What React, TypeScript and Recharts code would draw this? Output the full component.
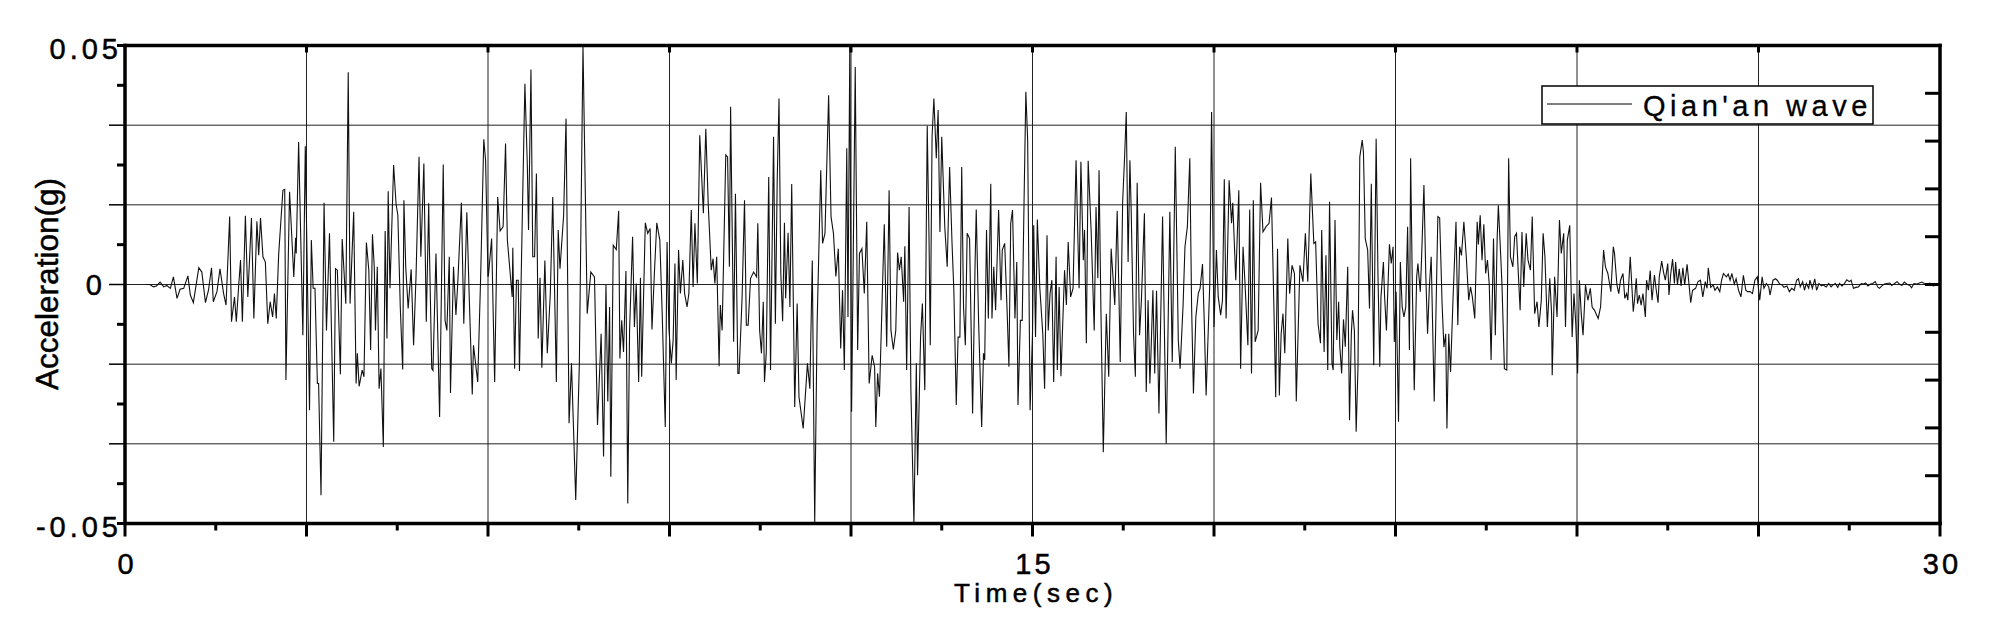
import { LineChart, Line, XAxis, YAxis, ReferenceLine, Legend } from "recharts";

// Qian'an wave acceleration record, [time (s), acceleration (g)]
const SEG_0_5: [number, number][] = [
  [0.33, 0], [0.41, 0], [0.47, -0.0005], [0.52, -0.0003], [0.58, 0.0005], [0.64, -0.0005], [0.69, -0.0002],
  [0.75, -0.0008], [0.8, 0.0016], [0.86, -0.0029], [0.91, -0.001], [0.97, -0.0008], [1.04, 0.0018], [1.08, -0.0022],
  [1.13, -0.0038], [1.22, 0.0035], [1.27, 0.0026], [1.33, -0.0038], [1.38, -0.0012], [1.43, 0.0035], [1.46, -0.0036],
  [1.52, -0.0015], [1.57, 0.0033], [1.63, -0.0019], [1.67, -0.0043], [1.73, 0.0142], [1.76, -0.0078], [1.81, -0.0026],
  [1.84, -0.0078], [1.88, -0.0001], [1.91, 0.0051], [1.94, -0.0078], [1.99, 0.0144], [2.03, -0.0026], [2.09, 0.0139],
  [2.13, -0.0071], [2.18, 0.0132], [2.21, 0.0061], [2.24, 0.0139], [2.28, 0.0058], [2.32, 0.0047], [2.36, -0.0082],
  [2.4, -0.0036], [2.44, -0.0068], [2.47, -0.0019], [2.5, -0.0071], [2.54, 0.0063], [2.61, 0.0197], [2.64, 0.0199],
  [2.66, -0.02], [2.72, 0.0194], [2.79, 0.0016], [2.82, 0.0098], [2.83, 0.0065], [2.87, 0.0298], [2.94, -0.0106],
  [2.98, 0.0289], [3.05, -0.0263], [3.08, 0.0093], [3.11, -0.0008], [3.14, -0.0008], [3.18, -0.0207], [3.2, -0.0207],
  [3.24, -0.0441], [3.29, 0.0171], [3.33, -0.0096], [3.38, 0.0107], [3.45, -0.0329], [3.48, 0.0033], [3.51, 0.003],
  [3.56, -0.0188], [3.59, 0.0095], [3.65, -0.004], [3.69, 0.0444], [3.72, -0.004], [3.78, 0.0152], [3.82, -0.0207],
  [3.84, -0.0144], [3.87, -0.0213], [3.92, -0.0179], [3.95, -0.0193], [3.99, 0.0088], [4.03, 0.003], [4.06, -0.0137],
  [4.09, 0.0105], [4.12, 0.0037], [4.14, -0.0096], [4.17, 0.0037], [4.2, -0.0218], [4.23, -0.0176], [4.27, -0.034],
  [4.3, 0.0112], [4.33, -0.0113], [4.35, 0.0195], [4.38, -0.0008], [4.44, 0.025], [4.48, 0.0169], [4.51, 0.0145],
  [4.55, -0.0047], [4.59, -0.0178], [4.61, 0.0176], [4.64, 0.0037], [4.68, -0.005], [4.73, 0.0032], [4.77, -0.0127],
  [4.81, 0.0016], [4.86, 0.0267], [4.89, 0.0058], [4.94, 0.0253], [4.98, -0.0078],
];

const SEG_5_10: [number, number][] = [
  [5.02, 0.017], [5.03, 0.0086], [5.07, -0.0176], [5.09, -0.018], [5.14, 0.0065], [5.2, -0.0277], [5.26, 0.0251],
  [5.29, -0.0075], [5.32, -0.0096], [5.36, 0.0058], [5.38, -0.0227], [5.43, 0.0037], [5.47, -0.0064], [5.5, 0.0002],
  [5.56, 0.0171], [5.6, -0.0082], [5.65, 0.0151], [5.69, -0.0026], [5.74, -0.023], [5.76, -0.0127], [5.83, -0.0204],
  [5.88, 0.0023], [5.93, 0.0304], [5.96, 0.026], [6.0, 0.0016], [6.01, 0.0023], [6.06, 0.0096], [6.11, -0.0204],
  [6.16, 0.0183], [6.2, 0.0112], [6.25, 0.0121], [6.29, 0.0295], [6.32, 0.0093], [6.4, -0.0026], [6.41, 0.0077],
  [6.44, -0.0176], [6.47, 0.0009], [6.5, 0.0009], [6.52, -0.0181], [6.57, 0.0162], [6.61, 0.042], [6.65, 0.025],
  [6.67, 0.0114], [6.71, 0.045], [6.74, 0.0058], [6.77, 0.0058], [6.8, 0.0232], [6.83, -0.0113], [6.86, 0.0014],
  [6.89, -0.0174], [6.94, 0.005], [6.98, -0.0144], [7.03, -0.0019], [7.07, 0.0183], [7.13, -0.0204], [7.16, 0.0114],
  [7.19, 0.0033], [7.25, 0.0145], [7.29, 0.0347], [7.34, -0.029], [7.38, -0.0165], [7.45, -0.0451], [7.51, -0.0165],
  [7.57, 0.05], [7.64, -0.0061], [7.7, 0.0026], [7.76, 0.0016], [7.81, -0.0294], [7.87, -0.0103], [7.91, -0.036],
  [7.95, -0.0001], [7.98, -0.0245], [8.01, -0.0047], [8.03, -0.0402], [8.07, 0.0082], [8.12, 0.0073], [8.16, 0.0154],
  [8.18, -0.0155], [8.21, -0.0075], [8.24, -0.0141], [8.28, 0.0028], [8.31, -0.0458], [8.34, -0.0096], [8.39, 0.01],
  [8.42, -0.0089], [8.45, 0.0002], [8.49, -0.0204], [8.52, 0.0014], [8.54, -0.0193], [8.6, 0.0129], [8.64, 0.0107],
  [8.68, 0.0117], [8.71, -0.0094], [8.75, 0.0023], [8.79, 0.0129], [8.84, 0.0093], [8.88, -0.0064], [8.93, -0.0298],
  [8.96, 0.0089], [8.99, -0.0092], [9.03, -0.0165], [9.06, -0.0117], [9.09, 0.0044], [9.11, -0.02], [9.15, 0.0072],
  [9.18, -0.0019], [9.22, 0.0051], [9.25, -0.0019], [9.29, -0.0047], [9.32, -0.0019], [9.36, 0.0156], [9.39, -0.0005],
  [9.42, 0.0128], [9.46, 0.0002], [9.5, 0.0312], [9.56, 0.0149], [9.6, 0.0326], [9.64, 0.0169], [9.69, 0.003],
  [9.72, 0.0054], [9.75, 0.0002], [9.78, 0.0058], [9.82, -0.0171], [9.84, -0.0043], [9.87, -0.0096], [9.93, 0.0271],
  [9.96, 0.0267], [9.99, 0.0037], [10.01, 0.0372],
];

const SEG_10_15: [number, number][] = [
  [10.06, -0.012], [10.09, 0.019], [10.13, -0.0186], [10.15, -0.0186], [10.2, -0.0026], [10.24, 0.0176],
  [10.27, -0.0085], [10.3, -0.0085], [10.34, 0.0013], [10.39, 0.0026], [10.44, 0.0016], [10.46, 0.0128],
  [10.49, -0.0096], [10.52, -0.0144], [10.55, -0.0036], [10.57, -0.0204], [10.6, -0.0141], [10.64, 0.0225],
  [10.67, -0.0179], [10.72, 0.0309], [10.75, -0.0082], [10.78, 0.0215], [10.81, 0.0389], [10.84, 0.0023],
  [10.87, -0.0077], [10.9, 0.0129], [10.92, -0.0029], [10.96, 0.0108], [10.99, -0.0047], [11.02, 0.021],
  [11.07, -0.0256], [11.11, -0.004], [11.14, -0.0235], [11.21, -0.0301], [11.28, -0.0165], [11.32, -0.0218],
  [11.36, 0.005], [11.4, -0.05], [11.44, -0.0082], [11.5, 0.0239], [11.53, 0.0086], [11.57, 0.0107], [11.63, 0.0396],
  [11.67, 0.0142], [11.71, 0.0107], [11.75, 0.0017], [11.79, 0.0075], [11.83, -0.0134], [11.86, -0.0012],
  [11.89, -0.0179], [11.93, 0.0285], [11.95, -0.0068], [11.98, 0.05], [12.01, -0.0266], [12.07, 0.0455],
  [12.11, -0.0137], [12.14, 0.0065], [12.18, 0.0075], [12.22, -0.0019], [12.26, 0.0131], [12.3, -0.0207],
  [12.35, -0.0148], [12.39, -0.0172], [12.41, -0.0298], [12.44, -0.0186], [12.47, -0.0235], [12.51, -0.0054],
  [12.55, 0.0126], [12.59, -0.013], [12.63, 0.0197], [12.66, -0.0096], [12.7, -0.0136], [12.74, -0.0096],
  [12.77, 0.0067], [12.8, 0.003], [12.83, 0.0058], [12.87, -0.0036], [12.89, 0.008], [12.92, -0.0179], [12.96, 0.0162],
  [12.99, -0.0221], [13.04, -0.05], [13.08, -0.0165], [13.1, -0.0399], [13.15, -0.011], [13.18, -0.004],
  [13.22, -0.0221], [13.26, 0.0332], [13.29, 0.0093], [13.31, -0.0127], [13.34, 0.0309], [13.37, 0.0389],
  [13.41, 0.0264], [13.44, 0.0365], [13.47, 0.011], [13.5, 0.0309], [13.55, 0.0121], [13.59, 0.0037], [13.63, 0.0246],
  [13.67, 0.0086], [13.7, -0.0012], [13.74, -0.0252], [13.77, -0.011], [13.8, -0.011], [13.83, 0.0246],
  [13.86, -0.0047], [13.89, -0.0127], [13.92, 0.0107], [13.96, 0.0096], [14.01, -0.027], [14.05, 0.0037],
  [14.07, 0.0157], [14.11, -0.0082], [14.16, -0.0298], [14.19, -0.0144], [14.21, -0.0158], [14.24, 0.0114],
  [14.27, -0.0071], [14.31, 0.0211], [14.33, -0.0071], [14.36, 0.0037], [14.39, -0.0054], [14.44, 0.0156],
  [14.48, -0.0033], [14.5, 0.0072], [14.54, 0.0086], [14.58, -0.0054], [14.61, -0.0172], [14.64, 0.0128],
  [14.67, 0.0156], [14.71, -0.0071], [14.74, 0.0047], [14.76, -0.0252], [14.8, -0.0075], [14.83, -0.0075],
  [14.86, 0.017], [14.89, 0.0403], [14.92, 0.0302], [14.96, -0.0263],
];

const SEG_15_20: [number, number][] = [
  [15.0, -0.0103], [15.02, 0.0124], [15.05, -0.011], [15.08, 0.0136], [15.12, -0.0005], [15.17, -0.0103],
  [15.2, -0.0218], [15.24, 0.0103], [15.26, -0.0096], [15.29, -0.0019], [15.32, 0.0009], [15.35, -0.0204],
  [15.39, 0.0058], [15.41, -0.0179], [15.44, -0.0005], [15.47, -0.0192], [15.53, 0.003], [15.56, -0.0043],
  [15.59, 0.0089], [15.63, -0.0026], [15.67, -0.0008], [15.72, 0.026], [15.77, -0.0008], [15.8, 0.0257],
  [15.84, 0.0051], [15.86, 0.0114], [15.89, -0.0123], [15.92, 0.0259], [15.97, 0.011], [16.02, -0.0096],
  [16.05, 0.0162], [16.08, 0.0013], [16.1, 0.0239], [16.13, -0.0047], [16.17, -0.0351], [16.22, -0.0061],
  [16.26, -0.0193], [16.3, 0.0075], [16.36, -0.0043], [16.4, 0.0154], [16.43, -0.0029], [16.45, -0.0162],
  [16.49, 0.0173], [16.52, 0.026], [16.55, 0.0361], [16.58, 0.0047], [16.61, 0.026], [16.63, 0.0162],
  [16.67, -0.0103], [16.7, -0.0193], [16.73, 0.0213], [16.77, -0.0106], [16.8, -0.0033], [16.85, 0.0149],
  [16.88, -0.0225], [16.91, -0.0033], [16.94, -0.0207], [16.96, -0.0138], [16.99, -0.0012], [17.02, -0.0186],
  [17.05, -0.0013], [17.09, -0.027], [17.15, 0.0142], [17.21, -0.0333], [17.23, -0.0179], [17.27, 0.0152],
  [17.31, -0.0162], [17.36, 0.0288], [17.41, -0.0117], [17.44, -0.0176], [17.49, -0.004], [17.52, 0.0079],
  [17.56, 0.0121], [17.6, 0.0264], [17.63, -0.0047], [17.66, -0.0228], [17.7, -0.0068], [17.74, -0.0019],
  [17.77, -0.0008], [17.81, 0.0043], [17.84, -0.0082], [17.87, -0.0232], [17.93, 0.0001], [17.96, 0.0361],
  [18.0, -0.0089], [18.04, 0.0072], [18.07, -0.0026], [18.11, -0.0064], [18.14, -0.0033], [18.17, 0.022],
  [18.2, -0.0071], [18.25, 0.0218], [18.29, 0.0128], [18.31, 0.0171], [18.36, 0.0009], [18.41, 0.0197],
  [18.44, -0.0176], [18.48, 0.0079], [18.51, 0.0009], [18.56, -0.0127], [18.59, 0.0157], [18.62, -0.0186],
  [18.65, 0.0176], [18.68, -0.012], [18.73, -0.0096], [18.77, 0.0213], [18.81, 0.011], [18.86, 0.0121],
  [18.91, 0.0128], [18.95, 0.0182], [18.99, -0.0047], [19.02, -0.0236], [19.05, 0.0075], [19.08, -0.0232],
  [19.11, -0.0103], [19.14, -0.0061], [19.17, -0.0144], [19.22, 0.0096], [19.25, -0.0019], [19.29, 0.004],
  [19.33, 0.0023], [19.36, -0.0245], [19.42, 0.004], [19.47, 0.0006], [19.51, 0.0107], [19.55, 0.0006],
  [19.6, 0.0232], [19.65, 0.0086], [19.68, 0.0089], [19.72, -0.0082], [19.76, -0.0123], [19.78, 0.0114],
  [19.82, -0.0141], [19.85, 0.0061], [19.88, -0.0179], [19.91, 0.0173], [19.95, -0.0165],
];

const SEG_20_25: [number, number][] = [
  [19.97, -0.0179], [20.0, 0.0135], [20.03, -0.0116], [20.06, -0.0036], [20.08, -0.013], [20.11, -0.0186],
  [20.14, -0.0073], [20.17, -0.013], [20.21, 0.0037], [20.24, -0.0284], [20.27, -0.0103], [20.29, -0.0054],
  [20.32, -0.0096], [20.35, -0.0308], [20.38, -0.0172], [20.41, 0.0267], [20.45, 0.0302], [20.47, 0.0277],
  [20.5, 0.0096], [20.54, 0.0072], [20.57, -0.005], [20.6, 0.0211], [20.64, -0.0169], [20.68, 0.0305],
  [20.71, 0.0023], [20.74, -0.0172], [20.76, -0.0026], [20.8, 0.0047], [20.82, -0.0026], [20.85, -0.0096],
  [20.9, 0.0084], [20.93, 0.0044], [20.96, 0.0079], [20.98, -0.012], [21.01, -0.0015], [21.05, -0.0287],
  [21.08, 0.0047], [21.11, -0.0047], [21.14, -0.0068], [21.17, -0.0047], [21.2, 0.0121], [21.23, -0.0137],
  [21.25, 0.0264], [21.28, -0.0019], [21.31, -0.0221], [21.35, 0.0016], [21.37, 0.0044], [21.41, -0.0015],
  [21.43, 0.0051], [21.47, 0.0208], [21.5, 0.0023], [21.53, -0.0103], [21.56, -0.0005], [21.59, 0.0058],
  [21.64, -0.0245], [21.7, 0.0142], [21.73, 0.0139], [21.77, -0.004], [21.8, -0.0131], [21.83, -0.0103],
  [21.85, -0.0301], [21.88, -0.0103], [21.91, -0.0183], [21.95, -0.0033], [22.0, 0.0131], [22.03, -0.0085],
  [22.06, 0.0079], [22.09, 0.0061], [22.13, 0.0131], [22.17, 0.0058], [22.21, -0.0033], [22.24, -0.0005],
  [22.27, -0.0026], [22.31, -0.0071], [22.35, 0.0131], [22.37, 0.0084], [22.4, 0.0145], [22.43, 0.0051],
  [22.46, 0.0126], [22.49, 0.0023], [22.52, 0.0051], [22.55, -0.0001], [22.58, -0.0158], [22.62, 0.0096],
  [22.65, -0.0106], [22.68, 0.0096], [22.7, 0.0166], [22.74, 0.0058], [22.76, -0.0001], [22.8, -0.0176],
  [22.84, -0.0179], [22.87, 0.0264], [22.9, 0.0058], [22.94, 0.0037], [22.97, 0.01], [23.0, 0.0107], [23.03, 0.0023],
  [23.06, -0.0054], [23.09, 0.011], [23.12, -0.0005], [23.16, 0.0107], [23.19, 0.0051], [23.23, 0.003],
  [23.26, 0.0142], [23.3, -0.0061], [23.34, -0.0036], [23.37, -0.0089], [23.41, -0.0033], [23.44, 0.0107],
  [23.47, 0.0058], [23.51, -0.0089], [23.55, 0.0013], [23.58, -0.0061], [23.59, -0.019], [23.63, 0.0016],
  [23.67, -0.0068], [23.71, 0.0135], [23.74, 0.0065], [23.78, 0.0107], [23.81, -0.0089], [23.84, 0.0093],
  [23.88, 0.0124], [23.92, -0.011], [23.95, -0.0019], [23.98, -0.0082], [24.01, -0.0186], [24.04, 0.0009],
  [24.07, -0.0061], [24.1, -0.0106], [24.14, -0.0001], [24.18, -0.0033], [24.22, -0.0008], [24.25, -0.0047],
  [24.29, -0.0054], [24.35, -0.0071], [24.39, -0.0047], [24.44, 0.0072], [24.47, 0.0037], [24.51, 0.0023],
  [24.56, -0.0015], [24.6, 0.0079], [24.62, 0.0065], [24.66, -0.0001], [24.69, -0.0019], [24.72, 0.0009],
  [24.76, 0.0023], [24.79, -0.0029], [24.82, -0.0019], [24.84, -0.0033], [24.88, 0.0058], [24.93, -0.0057],
];

const SEG_25_30: [number, number][] = [
  [24.95, -0.0033], [24.98, 0.0013], [25.0, -0.004], [25.03, -0.0022], [25.06, -0.0043], [25.09, -0.0019],
  [25.13, -0.0068], [25.15, 0.0009], [25.18, -0.0012], [25.21, 0.0029], [25.24, -0.0033], [25.28, 0.002],
  [25.31, -0.0012], [25.34, -0.0038], [25.36, 0.0016], [25.4, 0.0049], [25.43, 0.0026], [25.46, 0.0009],
  [25.5, 0.0044], [25.52, -0.0022], [25.55, 0.0023], [25.58, 0.0053], [25.61, 0.0002], [25.63, 0.0047],
  [25.66, -0.0001], [25.69, 0.0033], [25.72, -0.0003], [25.75, 0.0035], [25.78, -0.0001], [25.82, 0.0042],
  [25.85, 0.0002], [25.88, -0.0038], [25.91, -0.0012], [25.96, -0.0008], [26.0, 0.0006], [26.04, 0.0009],
  [26.08, -0.0026], [26.12, 0.0006], [26.15, -0.0008], [26.17, 0.0035], [26.21, -0.0006], [26.25, -0.0001],
  [26.28, -0.0012], [26.32, -0.0005], [26.36, -0.0015], [26.39, 0.0009], [26.42, 0.0023], [26.47, 0.0016],
  [26.5, 0.0022], [26.53, 0.0009], [26.56, 0.0023], [26.6, 0.0001], [26.63, 0.0012], [26.67, -0.0012],
  [26.71, -0.0026], [26.75, 0.0019], [26.79, -0.0012], [26.82, -0.0015], [26.86, -0.0015], [26.9, -0.0019],
  [26.94, 0.0009], [26.98, 0.0016], [27.02, -0.0033], [27.06, 0.0016], [27.09, -0.0008], [27.13, 0.0002],
  [27.17, -0.0005], [27.19, -0.0022], [27.24, 0.0009], [27.28, 0.0012], [27.31, 0.0009], [27.35, 0.0001],
  [27.39, -0.0001], [27.42, -0.0006], [27.47, -0.0003], [27.51, -0.0015], [27.55, -0.0008], [27.59, -0.0012],
  [27.63, 0.0009], [27.66, 0.0012], [27.69, -0.0005], [27.73, 0.0006], [27.76, -0.0012], [27.79, 0.0002],
  [27.83, -0.0008], [27.85, 0.0009], [27.89, -0.0008], [27.93, 0.0012], [27.96, -0.0012], [28.0, 0.0002],
  [28.04, -0.0003], [28.07, -0.0001], [28.12, -0.0005], [28.16, 0.0002], [28.2, -0.0005], [28.23, -0.0001],
  [28.27, 0.0002], [28.31, -0.0006], [28.34, 0.0002], [28.38, -0.0003], [28.42, 0.0002], [28.46, 0.001],
  [28.5, 0.0006], [28.53, 0.0009], [28.57, -0.0008], [28.61, -0.0006], [28.65, -0.0005], [28.7, 0.0002],
  [28.74, 0.0001], [28.77, 0.0003], [28.81, -0.0003], [28.85, 0.0001], [28.89, 0.0002], [28.93, 0.0006],
  [28.97, -0.0005], [29.0, -0.0008], [29.04, -0.0003], [29.08, 0.0001], [29.12, 0.0002], [29.17, 0.0003],
  [29.2, -0.0002], [29.25, 0.0002], [29.29, 0.0006], [29.33, 0.0001], [29.37, -0.0002], [29.41, 0.0005],
  [29.45, 0.0001], [29.5, -0.0002], [29.53, -0.0007], [29.57, 0.0002], [29.62, 0.0001], [29.66, 0.0003],
  [29.7, 0.0005], [29.74, 0.0002], [29.78, 0], [29.83, 0.0003], [29.87, -0.0002], [29.9, -0.0003], [29.95, 0.0002],
  [29.98, 0],
];

// axes and grid
const X_TICKS = [0, 1.5, 3, 4.5, 6, 7.5, 9, 10.5, 12, 13.5, 15, 16.5, 18, 19.5, 21, 22.5, 24, 25.5, 27, 28.5, 30];
const X_MAJOR = [0, 3, 6, 9, 12, 15, 18, 21, 24, 27, 30];
const X_LABELS = [0, 15, 30];
const X_GRID = [3, 6, 9, 12, 15, 18, 21, 24, 27];
const Y_LEFT_TICKS = [
  -0.05, -0.04167, -0.03333, -0.025, -0.01667, -0.00833, 0, 0.00833, 0.01667, 0.025, 0.03333, 0.04167, 0.05,
];
const Y_GRID = [-0.03333, -0.01667, 0, 0.01667, 0.03333];
const Y_LABELS = [-0.05, 0, 0.05];
const Y_RIGHT_TICKS = [-0.04, -0.03, -0.02, -0.01, 0, 0.01, 0.02, 0.03, 0.04];

const data = [...SEG_0_5, ...SEG_5_10, ...SEG_10_15, ...SEG_15_20, ...SEG_20_25, ...SEG_25_30].map(([t, a]) => ({
  t,
  a,
}));

const FONT = "'Liberation Sans', Arial, Helvetica, sans-serif";
const INK = "#000";
// the scanned original has slightly heavy lettering
const TEXT_STYLE = { fontFamily: FONT, fill: INK, stroke: INK, strokeWidth: 0.5 };

function BottomTick(props: any) {
  const { x, y, payload } = props;
  const v = payload.value;
  const len = X_MAJOR.includes(v) ? 13 : 7;
  return (
    <g>
      <line x1={x} x2={x} y1={y - 1} y2={y + len} stroke={INK} strokeWidth={3} />
      {X_LABELS.includes(v) && (
        <text x={x + 2} y={y + 50.5} textAnchor="middle" fontSize={29} letterSpacing={3} {...TEXT_STYLE}>
          {v}
        </text>
      )}
    </g>
  );
}

function TopTick(props: any) {
  const { x, y } = props;
  return <line x1={x} x2={x} y1={y} y2={y + 7} stroke={INK} strokeWidth={3} />;
}

function LeftTick(props: any) {
  const { x, y, payload } = props;
  const v = payload.value;
  const grid = Y_GRID.includes(v);
  const len = grid ? 16 : 8;
  // the original sets the plain "0" further out than the decimal labels
  const shift = v === 0 ? 16 : 0;
  return (
    <g>
      <line x1={x - len} x2={x} y1={y} y2={y} stroke={INK} strokeWidth={grid ? 1.5 : 3} />
      {Y_LABELS.includes(v) && (
        <text
          x={x - 3 - shift}
          y={y + (v === 0 ? 0.5 : 3.5)}
          dy="0.35em"
          textAnchor="end"
          fontSize={29}
          letterSpacing={4}
          {...TEXT_STYLE}
        >
          {v}
        </text>
      )}
    </g>
  );
}

function RightTick(props: any) {
  const { x, y } = props;
  return <line x1={x - 15} x2={x} y1={y} y2={y} stroke={INK} strokeWidth={3} />;
}

function LegendBox(props: any) {
  const name = props.payload?.[0]?.value ?? "Qian'an wave";
  return (
    <svg width={334} height={41} style={{ display: "block" }}>
      <rect x={1} y={1} width={331} height={38} fill="#fff" stroke={INK} strokeWidth={1.5} />
      <line x1={6} x2={91} y1={19} y2={19} stroke={INK} strokeWidth={1} />
      <text x={102} y={31} fontSize={29} letterSpacing={4.5} {...TEXT_STYLE} strokeWidth={0.3}>
        {name}
      </text>
    </svg>
  );
}

export default function App() {
  return (
    <div style={{ position: "absolute", left: 0, top: 0, width: 1999, height: 634, background: "#fff" }}>
      <LineChart width={1999} height={634} data={data} margin={{ top: 44.5, right: 58, bottom: 109.5, left: 124 }}>
        {X_GRID.map((v) => (
          <ReferenceLine key={`gx${v}`} x={v} xAxisId="bottom" yAxisId="left" stroke="#222" strokeWidth={1} />
        ))}
        {Y_GRID.map((v) => (
          <ReferenceLine key={`gy${v}`} y={v} xAxisId="bottom" yAxisId="left" stroke="#222" strokeWidth={1} />
        ))}
        <Line
          xAxisId="bottom"
          yAxisId="left"
          type="linear"
          dataKey="a"
          name="Qian'an wave"
          stroke="#111"
          strokeWidth={1.1}
          dot={false}
          activeDot={false}
          isAnimationActive={false}
        />
        <XAxis
          xAxisId="bottom"
          type="number"
          dataKey="t"
          domain={[0, 30]}
          allowDataOverflow
          ticks={X_TICKS}
          interval={0}
          height={1}
          tickSize={0}
          tickMargin={0}
          tickLine={false}
          tick={BottomTick}
          axisLine={{ stroke: INK, strokeWidth: 3.5, strokeLinecap: "square" }}
          label={() => (
            <text x={1036} y={602} textAnchor="middle" fontSize={26} letterSpacing={5.5} {...TEXT_STYLE}>
              Time(sec)
            </text>
          )}
        />
        <XAxis
          xAxisId="top"
          orientation="top"
          type="number"
          dataKey="t"
          domain={[0, 30]}
          allowDataOverflow
          ticks={X_GRID}
          interval={0}
          height={1}
          tickSize={0}
          tickMargin={0}
          tickLine={false}
          tick={TopTick}
          axisLine={{ stroke: INK, strokeWidth: 3.5, strokeLinecap: "square" }}
        />
        <YAxis
          yAxisId="left"
          type="number"
          domain={[-0.05, 0.05]}
          allowDataOverflow
          ticks={Y_LEFT_TICKS}
          interval={0}
          width={1}
          tickSize={0}
          tickMargin={0}
          tickLine={false}
          tick={LeftTick}
          axisLine={{ stroke: INK, strokeWidth: 3.5, strokeLinecap: "square" }}
          label={() => (
            <text x={58} y={284} transform="rotate(-90 58 284)" textAnchor="middle" fontSize={31.5} {...TEXT_STYLE}>
              Acceleration(g)
            </text>
          )}
        />
        <YAxis
          yAxisId="right"
          orientation="right"
          type="number"
          domain={[-0.05, 0.05]}
          allowDataOverflow
          ticks={Y_RIGHT_TICKS}
          interval={0}
          width={1}
          tickSize={0}
          tickMargin={0}
          tickLine={false}
          tick={RightTick}
          axisLine={{ stroke: INK, strokeWidth: 3.5, strokeLinecap: "square" }}
        />
        <Legend
          layout="horizontal"
          verticalAlign="middle"
          align="center"
          content={LegendBox}
          wrapperStyle={{ left: 1541, top: 85, width: 334, height: 41 }}
        />
      </LineChart>
    </div>
  );
}
